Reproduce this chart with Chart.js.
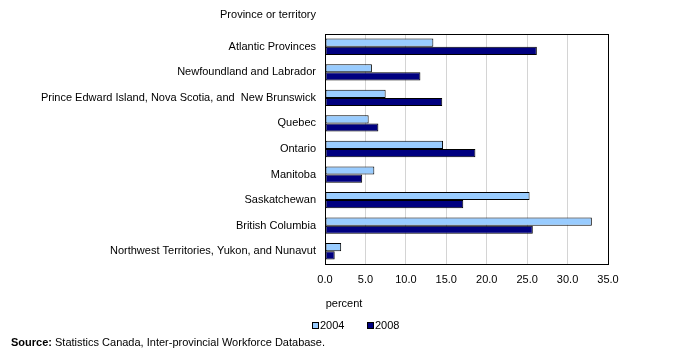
<!DOCTYPE html>
<html><head><meta charset="utf-8">
<script src="https://cdn.jsdelivr.net/npm/chart.js@4/dist/chart.umd.min.js"></script>
<style>html,body{margin:0;padding:0;background:#fff}#wrap{width:675px;height:359px;position:relative}</style>
</head><body><div id="wrap"><canvas id="c" width="675" height="359"></canvas></div>
<script>
const categories = ["Atlantic Provinces","Newfoundland and Labrador","Prince Edward Island, Nova Scotia, and  New Brunswick","Quebec","Ontario","Manitoba","Saskatchewan","British Columbia","Northwest Territories, Yukon, and Nunavut"];
const values2004 = [13.4, 5.8, 7.5, 5.4, 14.6, 6.1, 25.3, 33.0, 2.0];
const values2008 = [26.2, 11.8, 14.5, 6.6, 18.6, 4.6, 17.1, 25.7, 1.2];
const seriesNames = ["2004","2008"];
const xTicks = [0,5,10,15,20,25,30,35];
const axisTitleY = "Province or territory";
const axisTitleX = "percent";
const FONT = "'Liberation Sans', Arial, sans-serif";

const extras = {
  id:'extras',
  afterDraw(chart){
    const ctx = chart.ctx, a = chart.chartArea;
    ctx.save();
    ctx.strokeStyle = '#000'; ctx.lineWidth = 1;
    ctx.strokeRect(Math.round(a.left)+0.5, Math.round(a.top)+0.5, Math.round(a.right-a.left), Math.round(a.bottom-a.top));
    ctx.fillStyle = '#000';
    ctx.font = "11px " + FONT;
    ctx.textBaseline = 'middle';
    ctx.textAlign = 'right';
    ctx.fillText(axisTitleY, 316, 15);
    ctx.textAlign = 'center';
    ctx.fillText(axisTitleX, 344, 304);
    // legend
    const lx = [312, 367];
    chart.data.datasets.forEach((ds,i)=>{
      ctx.fillStyle = ds.backgroundColor;
      ctx.fillRect(lx[i], 322, 7, 7);
      ctx.strokeStyle = '#000';
      ctx.strokeRect(lx[i]+0.5, 322.5, 6, 6);
      ctx.fillStyle = '#000';
      ctx.textAlign = 'left';
      ctx.fillText(ds.label, lx[i]+8, 326);
    });
    ctx.font = "bold 11px " + FONT;
    ctx.textAlign = 'left';
    ctx.fillText("Source:", 11, 343);
    const w = ctx.measureText("Source: ").width;
    ctx.font = "11px " + FONT;
    ctx.fillText("Statistics Canada, Inter-provincial Workforce Database.", 11 + w, 343);
    ctx.restore();
  }
};

new Chart(document.getElementById('c'), {
  type: 'bar',
  data: {
    labels: categories,
    datasets: [
      {label: seriesNames[0], data: values2004, backgroundColor: '#99CCFF', borderColor: '#000', borderWidth: 1, borderSkipped: false},
      {label: seriesNames[1], data: values2008, backgroundColor: '#000080', borderColor: '#000', borderWidth: 1, borderSkipped: false}
    ]
  },
  options: {
    indexAxis: 'y',
    responsive: false,
    animation: false,
    layout: {padding: {top: 34, right: 67, left: 0, bottom: 0}},
    categoryPercentage: 0.64,
    barPercentage: 1.0,
    plugins: {legend: {display: false}, tooltip: {enabled: false}},
    scales: {
      x: {
        min: 0, max: 35,
        afterBuildTicks(s){ s.ticks = xTicks.map(v=>({value:v})); },
        afterFit(s){ s.height = 95; },
        grid: {color: '#d4d4d4', drawTicks: false},
        border: {color: '#000'},
        ticks: {color: '#000', font: {family: FONT, size: 11}, padding: 9, maxRotation: 0,
                callback: v => Number(v).toFixed(1)}
      },
      y: {
        afterFit(s){ s.width = 325; },
        grid: {display: false, drawTicks: false},
        border: {color: '#000'},
        ticks: {color: '#000', font: {family: FONT, size: 11}, padding: 9, autoSkip: false}
      }
    }
  },
  plugins: [extras]
});
</script></body></html>
